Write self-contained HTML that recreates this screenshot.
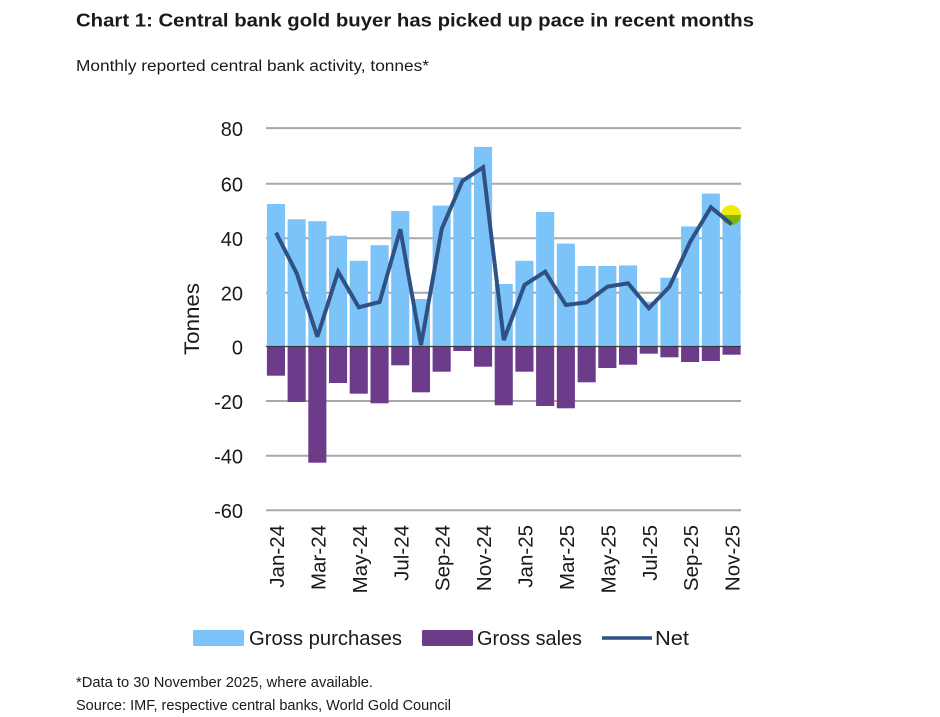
<!DOCTYPE html>
<html>
<head>
<meta charset="utf-8">
<style>
html,body{margin:0;padding:0;background:#fff;}
svg{display:block;}
text{font-family:"Liberation Sans",sans-serif;fill:#1a1a1a;}
</style>
</head>
<body>
<svg width="940" height="717" viewBox="0 0 940 717" xmlns="http://www.w3.org/2000/svg">
<rect width="940" height="717" fill="#fff"/>
<!-- Title -->
<text x="76" y="26.5" font-size="18.5" font-weight="bold" textLength="678" lengthAdjust="spacingAndGlyphs">Chart 1: Central bank gold buyer has picked up pace in recent months</text>
<text x="76" y="71" font-size="15.5" textLength="353" lengthAdjust="spacingAndGlyphs">Monthly reported central bank activity, tonnes*</text>

<!-- gridlines -->
<g stroke="#a8a8a8" stroke-width="2">
<line x1="266" y1="128.1" x2="741" y2="128.1"/>
<line x1="266" y1="183.8" x2="741" y2="183.8"/>
<line x1="266" y1="238.3" x2="741" y2="238.3"/>
<line x1="266" y1="292.7" x2="741" y2="292.7"/>
<line x1="266" y1="401.0" x2="741" y2="401.0"/>
<line x1="266" y1="455.7" x2="741" y2="455.7"/>
<line x1="266" y1="510.3" x2="741" y2="510.3"/>
</g>

<!-- y tick labels -->
<g font-size="20" text-anchor="end">
<text x="243" y="136">80</text>
<text x="243" y="191.5">60</text>
<text x="243" y="246">40</text>
<text x="243" y="300.5">20</text>
<text x="243" y="354.5">0</text>
<text x="243" y="409">-20</text>
<text x="243" y="463.5">-40</text>
<text x="243" y="518">-60</text>
</g>
<text transform="translate(199,319) rotate(-90)" font-size="21" text-anchor="middle" textLength="72" lengthAdjust="spacingAndGlyphs">Tonnes</text>

<!-- purchases bars -->
<g fill="#7cc3f9">
<rect x="266.9" y="204.0" width="18.1" height="142.3"/>
<rect x="287.6" y="219.3" width="18.1" height="127.0"/>
<rect x="308.3" y="221.2" width="18.1" height="125.1"/>
<rect x="329.0" y="235.7" width="18.1" height="110.6"/>
<rect x="349.7" y="260.8" width="18.1" height="85.5"/>
<rect x="370.5" y="245.2" width="18.1" height="101.1"/>
<rect x="391.2" y="211.1" width="18.1" height="135.2"/>
<rect x="411.9" y="299.0" width="18.1" height="47.3"/>
<rect x="432.6" y="205.6" width="18.1" height="140.7"/>
<rect x="453.3" y="177.2" width="18.1" height="169.1"/>
<rect x="474.0" y="146.9" width="18.1" height="199.4"/>
<rect x="494.7" y="284.0" width="18.1" height="62.3"/>
<rect x="515.4" y="260.8" width="18.1" height="85.5"/>
<rect x="536.1" y="211.9" width="18.1" height="134.4"/>
<rect x="556.8" y="243.6" width="18.1" height="102.7"/>
<rect x="577.6" y="266.0" width="18.1" height="80.3"/>
<rect x="598.3" y="266.0" width="18.1" height="80.3"/>
<rect x="619.0" y="265.4" width="18.1" height="80.9"/>
<rect x="639.7" y="301.7" width="18.1" height="44.6"/>
<rect x="660.4" y="277.7" width="18.1" height="68.6"/>
<rect x="681.1" y="226.4" width="18.1" height="119.9"/>
<rect x="701.8" y="193.6" width="18.1" height="152.7"/>
<rect x="722.5" y="216.8" width="18.1" height="129.5"/>
</g>

<!-- sales bars -->
<g fill="#6c3b8a">
<rect x="266.9" y="346.8" width="18.1" height="28.9"/>
<rect x="287.6" y="346.8" width="18.1" height="55.2"/>
<rect x="308.3" y="346.8" width="18.1" height="115.9"/>
<rect x="329.0" y="346.8" width="18.1" height="36.2"/>
<rect x="349.7" y="346.8" width="18.1" height="46.9"/>
<rect x="370.5" y="346.8" width="18.1" height="56.5"/>
<rect x="391.2" y="346.8" width="18.1" height="18.5"/>
<rect x="411.9" y="346.8" width="18.1" height="45.5"/>
<rect x="432.6" y="346.8" width="18.1" height="24.9"/>
<rect x="453.3" y="346.8" width="18.1" height="4.2"/>
<rect x="474.0" y="346.8" width="18.1" height="19.9"/>
<rect x="494.7" y="346.8" width="18.1" height="58.5"/>
<rect x="515.4" y="346.8" width="18.1" height="24.9"/>
<rect x="536.1" y="346.8" width="18.1" height="59.2"/>
<rect x="556.8" y="346.8" width="18.1" height="61.5"/>
<rect x="577.6" y="346.8" width="18.1" height="35.5"/>
<rect x="598.3" y="346.8" width="18.1" height="21.2"/>
<rect x="619.0" y="346.8" width="18.1" height="17.9"/>
<rect x="639.7" y="346.8" width="18.1" height="6.9"/>
<rect x="660.4" y="346.8" width="18.1" height="10.5"/>
<rect x="681.1" y="346.8" width="18.1" height="15.2"/>
<rect x="701.8" y="346.8" width="18.1" height="14.2"/>
<rect x="722.5" y="346.8" width="18.1" height="7.9"/>
</g>

<!-- zero axis -->
<line x1="266" y1="346.5" x2="741" y2="346.5" stroke="#3a3a3a" stroke-width="1.3"/>

<!-- highlight dot -->
<path d="M721,215 A10,10 0 0 1 741,215 Z" fill="#f2ea00"/>
<path d="M721,215 A10,10 0 0 0 741,215 Z" fill="#80b800"/>

<!-- net line -->
<polyline fill="none" stroke="#2f5183" stroke-width="4" stroke-linejoin="miter" stroke-miterlimit="3"
points="276.0,232.7 296.7,273.3 317.4,336.7 338.1,271.7 358.8,307.3 379.6,302 400.3,229.3 421.0,345 441.7,229 462.4,181 483.1,167.3 503.8,340 524.5,285 545.2,271.7 565.9,305 586.7,302.3 607.4,286.7 628.1,283.3 648.8,308.3 669.5,286.7 690.2,241.7 710.9,207.3 731.6,224.3"/>

<!-- x labels -->
<g font-size="20.5" text-anchor="end">
<text transform="translate(284,525) rotate(-90)">Jan-24</text>
<text transform="translate(325.4,525) rotate(-90)">Mar-24</text>
<text transform="translate(366.8,525) rotate(-90)">May-24</text>
<text transform="translate(408.3,525) rotate(-90)">Jul-24</text>
<text transform="translate(449.7,525) rotate(-90)">Sep-24</text>
<text transform="translate(491.1,525) rotate(-90)">Nov-24</text>
<text transform="translate(532.5,525) rotate(-90)">Jan-25</text>
<text transform="translate(573.9,525) rotate(-90)">Mar-25</text>
<text transform="translate(615.4,525) rotate(-90)">May-25</text>
<text transform="translate(656.8,525) rotate(-90)">Jul-25</text>
<text transform="translate(698.2,525) rotate(-90)">Sep-25</text>
<text transform="translate(739.6,525) rotate(-90)">Nov-25</text>
</g>

<!-- legend -->
<rect x="193" y="630" width="51" height="16" rx="1.5" fill="#7cc3f9"/>
<text x="249" y="645" font-size="20.5" textLength="153" lengthAdjust="spacingAndGlyphs">Gross purchases</text>
<rect x="422" y="630" width="51" height="16" rx="1.5" fill="#6c3b8a"/>
<text x="477" y="645" font-size="20.5" textLength="105" lengthAdjust="spacingAndGlyphs">Gross sales</text>
<line x1="602" y1="638" x2="652" y2="638" stroke="#2f5183" stroke-width="3.5"/>
<text x="655" y="645" font-size="20.5" textLength="34" lengthAdjust="spacingAndGlyphs">Net</text>

<!-- footer -->
<text x="76" y="687" font-size="14.5" textLength="297" lengthAdjust="spacingAndGlyphs">*Data to 30 November 2025, where available.</text>
<text x="76" y="710" font-size="14.5" textLength="375" lengthAdjust="spacingAndGlyphs">Source: IMF, respective central banks, World Gold Council</text>
</svg>
</body>
</html>
